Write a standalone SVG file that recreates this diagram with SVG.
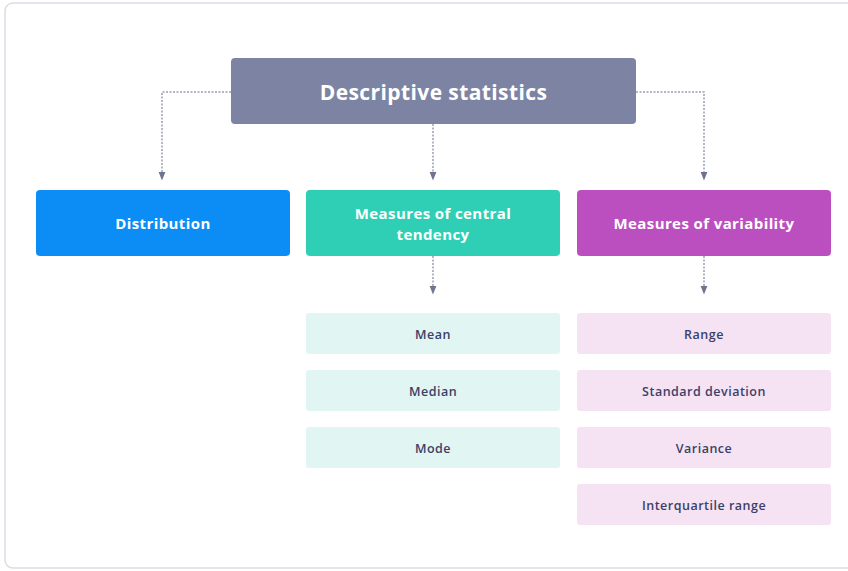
<svg xmlns="http://www.w3.org/2000/svg" width="848" height="571" viewBox="0 0 848 571">
<defs>
<style>
.card{fill:#fff;stroke:#dcdde3;stroke-width:1.5}
.h{font-family:"Open Sans","Liberation Sans",sans-serif;font-weight:700;fill:#fff;text-anchor:middle;dominant-baseline:central;letter-spacing:0.4px}
.c{font-family:"Open Sans","Liberation Sans",sans-serif;font-weight:600;font-size:12.5px;fill:#3b4068;text-anchor:middle;dominant-baseline:central;letter-spacing:0.5px}
.ln{fill:none;stroke:#9a9eb4;stroke-width:1.5;stroke-dasharray:2 1.5}
.teal{fill:#e1f5f3}
.pink{fill:#f5e3f4}
</style>
<marker id="arr" viewBox="0 0 10 10" refX="5" refY="5" markerWidth="6" markerHeight="6" orient="auto">
<path d="M0,1 L10,5 L0,9 z" fill="#6f748f"/>
</marker>
</defs>
<rect x="0" y="0" width="848" height="571" fill="#fff"/>
<rect class="card" x="5" y="3" width="870" height="565" rx="8"/>
<g id="connectors">
<path class="ln" d="M231,92 H162 V176" marker-end="url(#arr)"/>
<path class="ln" d="M433,124 V176" marker-end="url(#arr)"/>
<path class="ln" d="M636,92 H704 V176" marker-end="url(#arr)"/>
<path class="ln" d="M433,256 V290" marker-end="url(#arr)"/>
<path class="ln" d="M704,256 V290" marker-end="url(#arr)"/>
</g>
<g id="root">
<rect x="231" y="58" width="405" height="66" rx="4" fill="#7d84a3"/>
<text class="h" x="433.5" y="92" font-size="21">Descriptive statistics</text>
</g>
<g id="distribution">
<rect x="36" y="190" width="254" height="66" rx="4" fill="#0b8df5"/>
<text class="h" x="163" y="223" font-size="15">Distribution</text>
</g>
<g id="central">
<rect x="306" y="190" width="254" height="66" rx="4" fill="#2ecfb4"/>
<text class="h" x="433" y="213" font-size="15">Measures of central</text>
<text class="h" x="433" y="234" font-size="15">tendency</text>
</g>
<g id="variability">
<rect x="577" y="190" width="254" height="66" rx="4" fill="#bb4fc0"/>
<text class="h" x="704" y="223" font-size="15">Measures of variability</text>
</g>
<g id="mean"><rect class="teal" x="306" y="313" width="254" height="41" rx="3"/><text class="c" x="433" y="334">Mean</text></g>
<g id="median"><rect class="teal" x="306" y="370" width="254" height="41" rx="3"/><text class="c" x="433" y="391">Median</text></g>
<g id="mode"><rect class="teal" x="306" y="427" width="254" height="41" rx="3"/><text class="c" x="433" y="448">Mode</text></g>
<g id="range"><rect class="pink" x="577" y="313" width="254" height="41" rx="3"/><text class="c" x="704" y="334">Range</text></g>
<g id="std"><rect class="pink" x="577" y="370" width="254" height="41" rx="3"/><text class="c" x="704" y="391">Standard deviation</text></g>
<g id="variance"><rect class="pink" x="577" y="427" width="254" height="41" rx="3"/><text class="c" x="704" y="448">Variance</text></g>
<g id="iqr"><rect class="pink" x="577" y="484" width="254" height="41" rx="3"/><text class="c" x="704" y="505">Interquartile range</text></g>
</svg>
